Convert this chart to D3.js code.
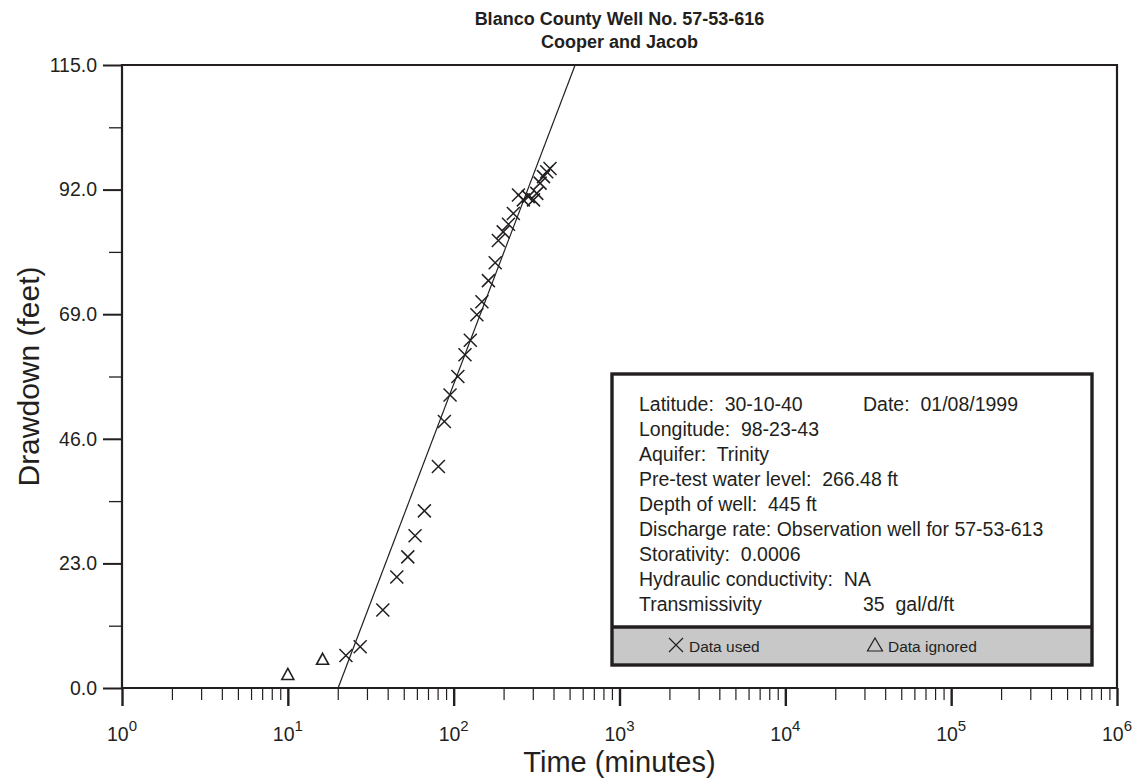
<!DOCTYPE html>
<html>
<head>
<meta charset="utf-8">
<script src="https://cdn.jsdelivr.net/npm/d3@7"></script>
<style>
  html, body { margin: 0; padding: 0; background: #fff; }
  svg { display: block; }
  text { font-family: "Liberation Sans", Arial, sans-serif; fill: #231f20; }
</style>
</head>
<body>
<svg id="chart" width="1140" height="778"></svg>
<script>
// ---- Data ----
const titleLines = ["Blanco County Well No. 57-53-616", "Cooper and Jacob"];
const xAxisTitle = "Time (minutes)";
const yAxisTitle = "Drawdown (feet)";

const usedTime = [22.4, 27.3, 37.4, 45.4, 52.9, 58.5, 66.6, 80.9, 87.9, 95.1, 106, 117, 126, 138, 148, 162, 178,
                  186, 199, 214, 229, 246, 263, 282, 303, 317, 332, 348, 364, 381];
const usedDrawdown = [6.0, 7.6, 14.4, 20.5, 24.2, 28.1, 32.7, 40.9, 49.2, 54.1, 57.5, 61.5, 64.2, 68.9, 71.3, 75.2, 78.5,
                      82.6, 84.2, 85.6, 87.6, 91.0, 90.1, 90.7, 90.1, 91.3, 93.2, 94.4, 95.3, 95.9];

const ignoredTime = [10, 16.2];
const ignoredDrawdown = [2.5, 5.3];

const fitTime = [20.1, 540];
const fitDrawdown = [0, 115];

const yTicks = [0, 23, 46, 69, 92, 115];
const yTickLabels = ["0.0", "23.0", "46.0", "69.0", "92.0", "115.0"];
const yMinorTicks = [11.5, 34.5, 57.5, 80.5, 103.5];
const xDecades = [0, 1, 2, 3, 4, 5, 6];

const infoLines = ["Latitude:  30-10-40", "Longitude:  98-23-43", "Aquifer:  Trinity",
  "Pre-test water level:  266.48 ft", "Depth of well:  445 ft",
  "Discharge rate: Observation well for 57-53-613", "Storativity:  0.0006",
  "Hydraulic conductivity:  NA", "Transmissivity"];
const infoRight = [{ line: 0, text: "Date:  01/08/1999" }, { line: 8, text: "35  gal/d/ft" }];
const legendItems = [{ symbol: "x", label: "Data used" }, { symbol: "tri", label: "Data ignored" }];

// ---- Layout ----
const ink = "#231f20";
const pL = 122, pR = 1117, pT = 65, pB = 688;
const svg = d3.select("#chart");

const x = d3.scaleLog().domain([1, 1e6]).range([pL, pR]);
const y = d3.scaleLinear().domain([0, 115]).range([pB, pT]);

// Title
svg.selectAll("text.title").data(titleLines).join("text")
  .attr("class", "title")
  .attr("x", (pL + pR) / 2)
  .attr("y", (d, i) => 25 + i * 23)
  .attr("text-anchor", "middle")
  .attr("font-size", 18)
  .attr("font-weight", "bold")
  .text(d => d);

// Y axis (major)
const yAxisMajor = d3.axisLeft(y).tickValues(yTicks).tickSize(19).tickSizeOuter(0)
  .tickFormat((d, i) => yTickLabels[i]).tickPadding(6);
const gy = svg.append("g").attr("transform", `translate(${pL},0)`).call(yAxisMajor);
gy.select(".domain").remove();
gy.selectAll("line").attr("stroke", ink).attr("stroke-width", 2);
gy.selectAll("text").attr("font-size", 19.5).attr("font-family", "Liberation Sans, Arial, sans-serif").attr("fill", ink);

// Y axis (minor)
const gym = svg.append("g").attr("transform", `translate(${pL},0)`)
  .call(d3.axisLeft(y).tickValues(yMinorTicks).tickSize(13).tickSizeOuter(0).tickFormat(""));
gym.select(".domain").remove();
gym.selectAll("line").attr("stroke", ink).attr("stroke-width", 1.3);

// X axis (major)
const xMajor = xDecades.map(k => Math.pow(10, k));
const gx = svg.append("g").attr("transform", `translate(0,${pB})`)
  .call(d3.axisBottom(x).tickValues(xMajor).tickSize(18).tickSizeOuter(0).tickFormat(""));
gx.select(".domain").remove();
gx.selectAll("line").attr("stroke", ink).attr("stroke-width", 2.4);

// X axis (minor)
const xMinor = [];
xDecades.slice(0, -1).forEach(k => { for (let m = 2; m <= 9; m++) xMinor.push(m * Math.pow(10, k)); });
const gxm = svg.append("g").attr("transform", `translate(0,${pB})`)
  .call(d3.axisBottom(x).tickValues(xMinor).tickSize(12).tickSizeOuter(0).tickFormat(""));
gxm.select(".domain").remove();
gxm.selectAll("line").attr("stroke", ink).attr("stroke-width", 1.2);

// X tick labels with superscripts
const xl = svg.append("g").selectAll("text").data(xDecades).join("text")
  .attr("x", d => x(Math.pow(10, d)))
  .attr("y", 741)
  .attr("text-anchor", "middle")
  .attr("font-size", 19.5);
xl.append("tspan").text("10");
xl.append("tspan").attr("font-size", 15).attr("dy", -10).text(d => d);

// Frame
svg.append("path")
  .attr("d", `M${pL},${pB}V${pT}H${pR}V${pB}Z`)
  .attr("fill", "none").attr("stroke", ink).attr("stroke-width", 2.2);

// Axis titles
svg.append("text").attr("x", (pL + pR) / 2).attr("y", 772)
  .attr("text-anchor", "middle").attr("font-size", 29).text(xAxisTitle);
svg.append("text").attr("transform", `translate(39,${(pT + pB) / 2}) rotate(-90)`)
  .attr("text-anchor", "middle").attr("font-size", 30).text(yAxisTitle);

// Fit line
const fitData = fitTime.map((t, i) => [t, fitDrawdown[i]]);
svg.append("path")
  .attr("d", d3.line().x(d => x(d[0])).y(d => y(d[1]))(fitData))
  .attr("fill", "none").attr("stroke", ink).attr("stroke-width", 1.2);

// Markers
const xMark = "M-6.5,-6.5L6.5,6.5M-6.5,6.5L6.5,-6.5";
const triMark = "M0,-6L6,5L-6,5Z";
const used = usedTime.map((t, i) => [t, usedDrawdown[i]]);
svg.append("g").selectAll("path").data(used).join("path")
  .attr("transform", d => `translate(${x(d[0])},${y(d[1])})`)
  .attr("d", xMark).attr("fill", "none").attr("stroke", ink).attr("stroke-width", 1.5);
const ignored = ignoredTime.map((t, i) => [t, ignoredDrawdown[i]]);
svg.append("g").selectAll("path").data(ignored).join("path")
  .attr("transform", d => `translate(${x(d[0])},${y(d[1])})`)
  .attr("d", triMark).attr("fill", "none").attr("stroke", ink).attr("stroke-width", 1.6);

// Info / legend box
const bx = 612, by = 374, bw = 480, bh = 291, bandTop = 627;
svg.append("rect").attr("x", bx).attr("y", bandTop).attr("width", bw).attr("height", by + bh - bandTop)
  .attr("fill", "#c8c8c8");
svg.append("rect").attr("x", bx).attr("y", by).attr("width", bw).attr("height", bandTop - by)
  .attr("fill", "#fff");
svg.append("rect").attr("x", bx).attr("y", by).attr("width", bw).attr("height", bh)
  .attr("fill", "none").attr("stroke", ink).attr("stroke-width", 3.4);
svg.append("line").attr("x1", bx).attr("x2", bx + bw).attr("y1", bandTop).attr("y2", bandTop)
  .attr("stroke", ink).attr("stroke-width", 3.4);

svg.append("g").selectAll("text").data(infoLines).join("text")
  .attr("x", 639).attr("y", (d, i) => 411 + i * 25)
  .attr("font-size", 19.5).style("white-space", "pre")
  .text(d => d);
svg.append("g").selectAll("text").data(infoRight).join("text")
  .attr("x", 863).attr("y", d => 411 + d.line * 25)
  .attr("font-size", 19.5).style("white-space", "pre")
  .text(d => d.text);

const legX = [676, 875];
const lg = svg.append("g").selectAll("g").data(legendItems).join("g")
  .attr("transform", (d, i) => `translate(${legX[i]},645)`);
lg.append("path")
  .attr("d", d => d.symbol === "x" ? "M-7,-7L7,7M-7,7L7,-7" : "M0,-7L7.5,6L-7.5,6Z")
  .attr("fill", "none").attr("stroke", ink).attr("stroke-width", 1.2);
lg.append("text").attr("x", 13).attr("y", 7)
  .attr("font-size", 15.5).text(d => d.label);
</script>
</body>
</html>
